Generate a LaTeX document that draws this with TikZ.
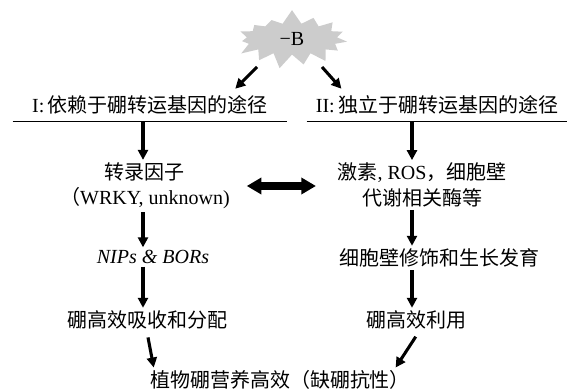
\documentclass[tikz,border=0pt]{standalone}
\usepackage{fontspec}
\setmainfont{Liberation Serif}
\newfontfamily\cjk{Noto Sans CJK SC}
\newcommand{\zh}[1]{{\cjk #1}}
\usepackage{tikz}
\usetikzlibrary{arrows.meta,shapes.symbols}
\tikzstyle{burstnode} = [starburst, starburst points=15, starburst point height=11pt, random starburst=7, fill=black!20, minimum width=90pt, minimum height=44pt, font=\fontsize{15pt}{19pt}\selectfont]
\tikzstyle{pathhead}  = [rectangle, text centered, inner xsep=0pt, inner ysep=5pt, font=\fontsize{15pt}{19pt}\selectfont]
\tikzstyle{wordin}    = [rectangle, align=center, inner sep=2pt, font=\fontsize{15pt}{19pt}\selectfont]
\tikzstyle{arrow}     = [line width=2.3pt, -{Triangle[length=7.5pt,width=7.5pt]}]
\tikzstyle{bigarrow}  = [line width=5.3pt, {Triangle[length=11pt,width=12pt]}-{Triangle[length=11pt,width=12pt]}]

\begin{document}
\begin{tikzpicture}[x=0.75pt, y=-0.75pt]
            \useasboundingbox (0,0) rectangle (572,392);
            %Create nodes for top
            \node (burst)   [burstnode] at (292,39) {−B};
            \node (head_1)  [pathhead, minimum width=205.5pt] at (150,105) {I:\,\zh{依赖于硼转运基因的途径}};
            \node (head_2)  [pathhead, minimum width=195pt]   at (437,105) {II:\,\zh{独立于硼转运基因的途径}};
            \draw [line width=1pt] (head_1.south west) -- (head_1.south east);
            \draw [line width=1pt] (head_2.south west) -- (head_2.south east);
            %Create nodes for both columns
            \node (factor)  [wordin] at (145,186) {\zh{转录因子}\\\zh{（}WRKY, unknown)};
            \node (hormone) [wordin] at (422,185) {\zh{激素}, ROS\zh{，细胞壁}\\\zh{代谢相关酶等}};
            \node (nips)    [wordin] at (153,257) {\textit{NIPs \& BORs}};
            \node (wall)    [wordin] at (439,258) {\zh{细胞壁修饰和生长发育}};
            \node (uptake)  [wordin] at (147,320) {\zh{硼高效吸收和分配}};
            \node (use)     [wordin] at (416,320) {\zh{硼高效利用}};
            \node (plant)   [wordin] at (280,380) {\zh{植物硼营养高效（缺硼抗性）}};
            \coordinate (col_1) at (143,0);
            \coordinate (col_2) at (412,0);
            \coordinate (burst_1) at ([shift={(-35,28)}]burst.center);
            \coordinate (burst_2) at ([shift={(30,28)}]burst.center);
            %Connect top
            \draw [arrow] (burst_1) -- ([xshift=-39pt]head_1.north east);
            \draw [arrow] (burst_2) -- ([xshift=26pt]head_2.north west);
            %Connect left column
            \draw [arrow] (head_1.south -| col_1) -- (factor.north -| col_1);
            \draw [arrow] (factor.south -| col_1) -- (nips.north -| col_1);
            \draw [arrow] (nips.south -| col_1)   -- (uptake.north -| col_1);
            \draw [arrow, shorten <=4pt] (uptake.south) -- ([xshift=5pt]plant.north west);
            %Connect right column
            \draw [arrow] (head_2.south -| col_2) -- (hormone.north -| col_2);
            \draw [arrow] (hormone.south -| col_2) -- (wall.north -| col_2);
            \draw [arrow] (wall.south -| col_2)    -- (use.north -| col_2);
            \draw [arrow, shorten <=4pt] ([xshift=2pt]use.south) -- ([xshift=-13pt]plant.north east);
            %Link both columns
            \draw [bigarrow, shorten <=10.5pt, shorten >=14pt] (factor.east) -- (factor.east -| hormone.west);
\end{tikzpicture}
\end{document}
